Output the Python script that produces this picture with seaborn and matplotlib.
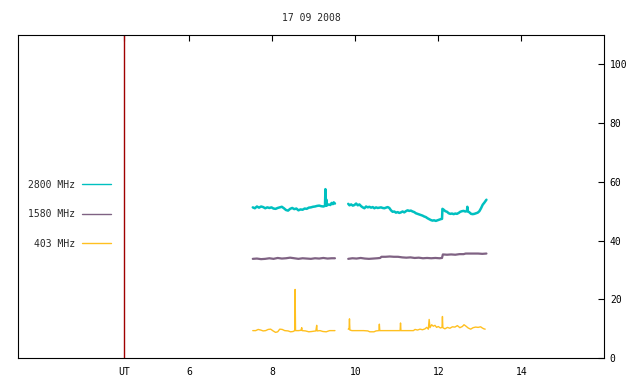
import pandas as pd
import matplotlib
matplotlib.use('Agg')
import matplotlib.pyplot as plt
from matplotlib.lines import Line2D
import seaborn as sns

# hours UT, flux values (two segments per band)
t2800_a = [7.53, 7.58, 7.63, 7.68, 7.73, 7.78, 7.83, 7.88, 7.93, 7.98, 8.03, 8.08, 8.13, 8.18,
           8.23, 8.28, 8.33, 8.38, 8.43, 8.48, 8.53, 8.58, 8.63, 8.68, 8.73, 8.78, 8.83, 8.88,
           8.93, 8.98, 9.03, 9.08, 9.13, 9.18, 9.23, 9.27, 9.28, 9.29, 9.30, 9.31, 9.36, 9.40,
           9.43, 9.46, 9.48, 9.51]
v2800_a = [51.3, 51.0, 51.6, 51.2, 51.6, 51.4, 51.0, 51.3, 51.1, 51.3, 50.9, 50.8, 51.1, 51.3,
           51.5, 51.0, 50.4, 50.2, 50.8, 51.1, 50.7, 50.9, 50.3, 50.6, 50.5, 50.9, 50.8, 51.2,
           51.3, 51.5, 51.6, 51.8, 51.9, 51.7, 51.6, 51.8, 57.5, 51.9, 54.0, 51.9, 52.3, 52.1,
           52.8, 52.4, 53.0, 52.6]
t2800_b = [9.83, 9.86, 9.90, 9.94, 9.98, 10.02, 10.06, 10.10, 10.14, 10.18, 10.22, 10.26, 10.30,
           10.34, 10.38, 10.42, 10.46, 10.50, 10.54, 10.58, 10.62, 10.66, 10.70, 10.74, 10.78,
           10.82, 10.86, 10.90, 10.94, 10.98, 11.02, 11.06, 11.10, 11.14, 11.18, 11.22, 11.26,
           11.30, 11.34, 11.38, 11.42, 11.46, 11.50, 11.54, 11.58, 11.62, 11.66, 11.70, 11.74,
           11.78, 11.82, 11.86, 11.90, 11.94, 11.98, 12.02, 12.06, 12.09, 12.10, 12.13, 12.17,
           12.21, 12.25, 12.29, 12.33, 12.37, 12.41, 12.45, 12.49, 12.53, 12.57, 12.61, 12.65,
           12.69, 12.70, 12.71, 12.75, 12.79, 12.83, 12.87, 12.91, 12.95, 12.99, 13.03, 13.07,
           13.11, 13.14, 13.16]
v2800_b = [52.5, 52.0, 52.3, 51.9, 52.1, 52.6, 52.0, 52.3, 51.7, 51.3, 51.0, 51.6, 51.3,
           51.5, 51.2, 51.4, 51.0, 51.3, 51.1, 51.2, 51.3, 51.1, 51.0, 51.2, 51.4,
           51.1, 50.3, 49.8, 49.9, 49.5, 49.7, 49.4, 49.6, 49.9, 49.6, 50.0, 50.3,
           50.1, 50.2, 49.9, 49.7, 49.3, 49.1, 48.9, 48.7, 48.5, 48.2, 48.0, 47.6,
           47.3, 47.0, 46.8, 46.9, 46.7, 46.9, 47.1, 47.3, 47.4, 50.8, 50.5, 50.0,
           49.8, 49.3, 49.1, 49.2, 49.0, 49.2, 49.1, 49.4, 49.8, 50.0, 50.1, 49.9,
           50.0, 51.5, 50.0, 49.6, 49.1, 49.0, 49.1, 49.3, 49.5, 50.0, 51.0, 52.2,
           52.9, 53.5, 53.9]

t1580_a = [7.53, 7.63, 7.73, 7.83, 7.93, 8.03, 8.13, 8.23, 8.33, 8.43, 8.53, 8.63, 8.73, 8.83,
           8.93, 9.03, 9.13, 9.23, 9.33, 9.43, 9.51]
v1580_a = [33.8, 33.9, 33.7, 33.8, 34.0, 33.8, 34.1, 33.9, 34.0, 34.2, 34.0, 33.8, 34.0, 33.9,
           33.8, 34.0, 33.9, 34.1, 33.9, 34.0, 34.0]
t1580_b = [9.83, 9.93, 10.03, 10.13, 10.23, 10.33, 10.43, 10.53, 10.60, 10.63, 10.73, 10.83,
           10.93, 11.03, 11.13, 11.23, 11.33, 11.43, 11.53, 11.63, 11.73, 11.83, 11.93, 12.03,
           12.09, 12.11, 12.21, 12.31, 12.41, 12.51, 12.61, 12.66, 12.76, 12.86, 12.96, 13.06,
           13.16]
v1580_b = [33.8, 34.0, 33.9, 34.1, 33.9, 33.8, 33.9, 34.0, 34.1, 34.5, 34.5, 34.6,
           34.5, 34.5, 34.3, 34.2, 34.3, 34.1, 34.2, 34.0, 34.1, 34.0, 34.1, 34.0,
           34.1, 35.3, 35.2, 35.3, 35.2, 35.4, 35.4, 35.6, 35.6, 35.6, 35.6, 35.5,
           35.6]

t403_a = [7.53, 7.60, 7.66, 7.72, 7.78, 7.84, 7.90, 7.96, 8.02, 8.08, 8.13, 8.18, 8.24, 8.30,
          8.38, 8.44, 8.50, 8.54, 8.55, 8.56, 8.63, 8.69, 8.71, 8.72, 8.80, 8.88, 8.95, 9.05,
          9.07, 9.08, 9.15, 9.22, 9.30, 9.38, 9.45, 9.51]
v403_a = [9.4, 9.4, 9.8, 9.6, 9.3, 9.4, 9.8, 9.9, 9.3, 8.8, 9.0, 9.9, 9.8, 9.4,
          9.3, 9.0, 9.1, 9.4, 23.4, 9.4, 9.4, 9.5, 10.4, 9.4, 9.3, 9.0, 9.1, 9.3,
          11.2, 9.3, 9.4, 9.1, 9.0, 9.4, 9.4, 9.4]
t403_b = [9.83, 9.85, 9.86, 9.87, 9.92, 10.0, 10.1, 10.2, 10.3, 10.35, 10.45, 10.50, 10.57,
          10.58, 10.59, 10.7, 10.8, 10.9, 11.0, 11.08, 11.09, 11.10, 11.2, 11.3, 11.40, 11.44,
          11.50, 11.56, 11.62, 11.68, 11.72, 11.76, 11.78, 11.80, 11.84, 11.88, 11.92, 11.96,
          12.00, 12.05, 12.09, 12.10, 12.11, 12.16, 12.22, 12.28, 12.34, 12.40, 12.46, 12.52,
          12.58, 12.62, 12.66, 12.72, 12.78, 12.84, 12.90, 12.96, 13.02, 13.06, 13.10, 13.13]
v403_b = [9.9, 9.9, 13.4, 9.6, 9.4, 9.4, 9.4, 9.4, 9.3, 9.0, 9.0, 9.3, 9.4,
          11.6, 9.4, 9.4, 9.4, 9.4, 9.4, 9.4, 12.0, 9.4, 9.4, 9.4, 9.4, 9.8,
          9.6, 9.9, 9.7, 10.0, 10.5, 9.9, 13.2, 10.4, 11.4, 10.9, 11.2, 10.5,
          10.8, 10.3, 10.5, 14.2, 10.4, 10.0, 10.5, 10.2, 10.7, 10.6, 11.1, 10.4,
          10.8, 11.4, 11.0, 10.3, 9.9, 10.4, 10.6, 10.5, 10.7, 10.3, 10.0, 9.9]

bands = ['2800 MHz', '1580 MHz', '403 MHz']
colors = ['#00c0c0', '#7f6283', '#ffc020']
x_ticks = [4.43, 6, 8, 10, 12, 14]
x_labels = ['UT', '6', '8', '10', '12', '14']
y_ticks = [0, 20, 40, 60, 80, 100]

def frame(t1, v1, t2, v2):
    a = pd.DataFrame({'t': t1, 'v': v1, 'seg': 0})
    b = pd.DataFrame({'t': t2, 'v': v2, 'seg': 1})
    return pd.concat([a, b], ignore_index=True)

data = [frame(t2800_a, v2800_a, t2800_b, v2800_b),
        frame(t1580_a, v1580_a, t1580_b, v1580_b),
        frame(t403_a, v403_a, t403_b, v403_b)]
widths = [1.8, 1.6, 1.0]

sns.set_style('white')
plt.rcParams['font.family'] = ['DejaVu Sans Mono']
plt.rcParams['font.size'] = 7

fig = plt.figure(figsize=(6.4, 3.84), dpi=100)
ax = fig.add_axes([0.0286, 0.067, 0.9156, 0.8411])

for df, c, w in zip(data, colors, widths):
    sns.lineplot(data=df, x='t', y='v', units='seg', estimator=None,
                 color=c, lw=w, ax=ax)

ax.axvline(4.43, color='#a00000', lw=1.0)

ax.set_xlim(1.88, 16.0)
ax.set_ylim(0, 109.8)
ax.set_xticks(x_ticks)
ax.set_xticklabels(x_labels)
ax.set_yticks(y_ticks)
ax.yaxis.tick_right()
ax.tick_params(axis='x', direction='in', length=4, width=0.8, top=True, pad=6, colors='black')
ax.tick_params(axis='y', direction='in', length=4, width=0.8, pad=4, colors='black')
ax.set_xlabel('')
ax.set_ylabel('')
for s in ax.spines.values():
    s.set_color('black')
    s.set_linewidth(0.8)

ax.set_title('17 09 2008', pad=10, fontsize=7)

handles = [Line2D([0], [0], color=c, lw=1.0) for c in colors]
ax.legend(handles, bands, loc='upper left', bbox_to_anchor=(0.003, 0.577),
          markerfirst=False, frameon=False, handlelength=3.0, handletextpad=0.7,
          labelspacing=2.0, borderaxespad=0.4)

fig.savefig('out.png', dpi=100)
